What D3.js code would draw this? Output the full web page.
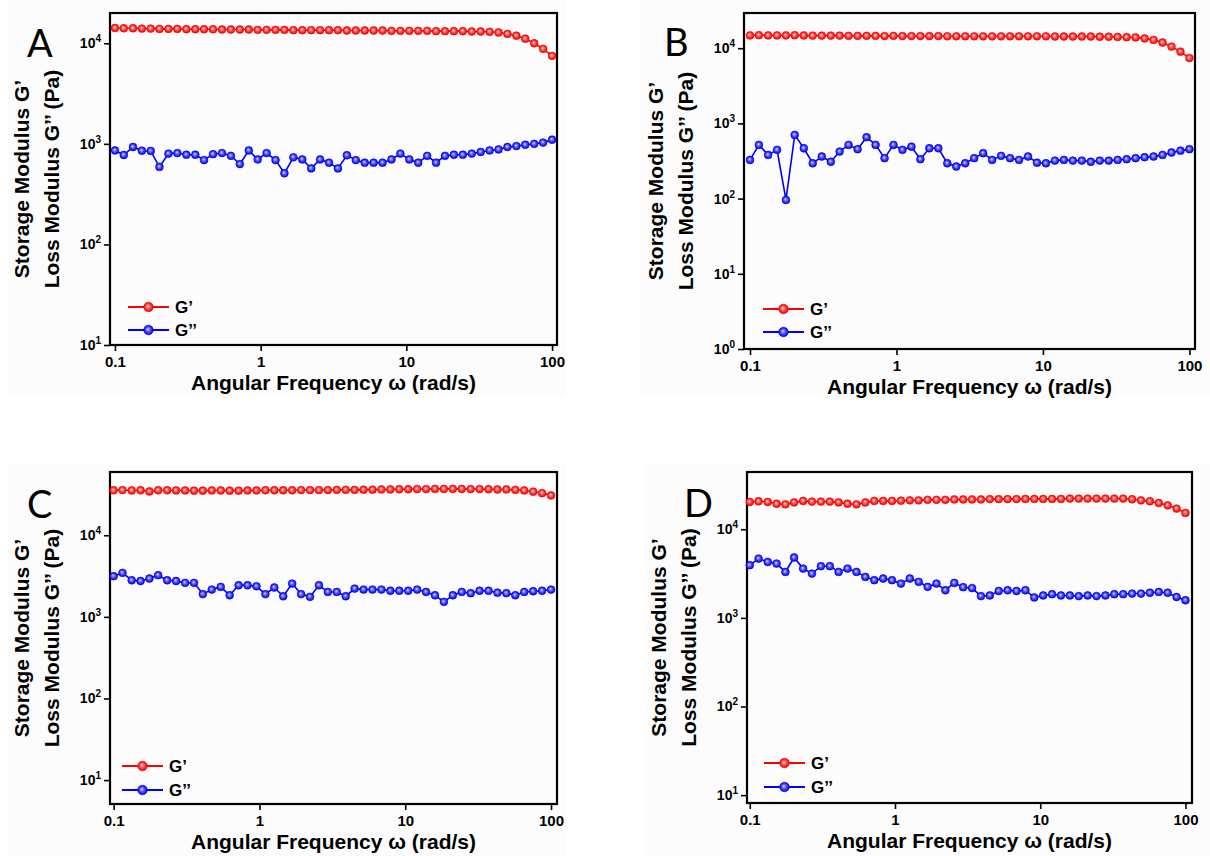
<!DOCTYPE html>
<html><head><meta charset="utf-8">
<script src="https://cdn.jsdelivr.net/npm/d3@7"></script>
<style>
body{margin:0;background:#fff}
svg{display:block}
</style>
</head><body>
<svg id="c" width="1210" height="856"></svg>
<script>
// ---------- data ----------
const freq = [0.1, 0.115, 0.133, 0.153, 0.176, 0.202, 0.233, 0.268, 0.309, 0.356,
  0.409, 0.471, 0.543, 0.625, 0.72, 0.829, 0.954, 1.099, 1.265, 1.456,
  1.677, 1.931, 2.223, 2.56, 2.947, 3.393, 3.907, 4.498, 5.179, 5.964,
  6.866, 7.906, 9.103, 10.48, 12.07, 13.9, 16, 18.42, 21.21, 24.42,
  28.12, 32.37, 37.28, 42.92, 49.42, 56.9, 65.51, 75.43, 86.85, 100];

const gpA = [14200, 14100, 14100, 14000, 14000, 13900, 13900, 13900, 13800, 13800,
  13800, 13800, 13700, 13700, 13700, 13700, 13600, 13600, 13600, 13600,
  13500, 13500, 13500, 13500, 13500, 13500, 13400, 13400, 13400, 13400,
  13400, 13300, 13300, 13300, 13300, 13300, 13200, 13200, 13200, 13200,
  13100, 13100, 13000, 12800, 12400, 11900, 11100, 10000, 8800, 7500];
const gppA = [860, 775, 930, 855, 850, 590, 800, 810, 780, 780,
  690, 790, 810, 760, 630, 860, 700, 810, 690, 510,
  735, 700, 570, 700, 650, 570, 770, 690, 650, 650,
  650, 700, 800, 700, 650, 760, 650, 760, 780, 780,
  800, 830, 860, 880, 930, 950, 980, 1000, 1030, 1100];

const gpB = [14800, 14900, 14800, 14800, 14800, 14900, 14800, 14700, 14700, 14700,
  14700, 14600, 14600, 14600, 14600, 14500, 14600, 14500, 14500, 14500,
  14500, 14500, 14400, 14400, 14400, 14400, 14400, 14400, 14400, 14400,
  14400, 14400, 14400, 14400, 14300, 14300, 14300, 14300, 14300, 14200,
  14200, 14100, 14000, 13900, 13500, 12900, 11900, 10500, 9000, 7400];
const gppB = [327, 518, 381, 445, 96, 703, 467, 295, 363, 309,
  422, 518, 454, 656, 518, 345, 518, 445, 490, 334,
  467, 467, 295, 267, 295, 345, 402, 327, 370, 345,
  327, 363, 300, 295, 320, 327, 320, 320, 309, 320,
  320, 327, 334, 345, 355, 363, 381, 410, 434, 454];

const gpC = [35600, 35800, 35400, 35600, 34400, 35600, 35600, 35400, 35400, 35200,
  35200, 35400, 35400, 35200, 35200, 35400, 35400, 35600, 35600, 35600,
  35600, 35800, 35800, 35800, 35800, 36000, 36000, 36000, 36200, 36200,
  36400, 36400, 36600, 36600, 36800, 36800, 37000, 37000, 37000, 37000,
  36800, 36800, 36600, 36400, 36400, 36000, 35400, 34200, 32800, 30800];
const gppC = [3150, 3460, 2810, 2750, 2950, 3240, 2810, 2750, 2610, 2610,
  1900, 2160, 2330, 1840, 2440, 2440, 2370, 1900, 2290, 1790,
  2560, 1900, 1760, 2440, 2020, 2020, 1790, 2220, 2160, 2160,
  2160, 2090, 2090, 2090, 2160, 2020, 1840, 1530, 1840, 2020,
  1950, 2090, 2090, 1980, 1950, 1840, 2020, 2060, 2090, 2160];

const gpD = [20300, 20700, 20300, 19400, 19100, 20100, 20900, 20500, 20500, 20500,
  20100, 19400, 19100, 20100, 20900, 20900, 20900, 21000, 21200, 21200,
  21500, 21500, 21500, 21700, 21700, 21700, 21700, 21900, 21900, 21900,
  21900, 22000, 22000, 22000, 22000, 22000, 22200, 22200, 22200, 22200,
  22200, 22200, 22200, 21800, 21200, 20700, 19800, 18600, 17100, 15300];
const gppD = [3930, 4670, 4280, 4100, 3300, 4800, 3600, 3160, 3830, 3830,
  3300, 3600, 3300, 2900, 2660, 2780, 2660, 2440, 2780, 2550,
  2240, 2440, 2050, 2480, 2220, 2170, 1760, 1790, 2010, 2050,
  2010, 2050, 1700, 1790, 1850, 1790, 1790, 1760, 1790, 1760,
  1790, 1850, 1850, 1880, 1880, 1920, 1960, 1920, 1720, 1580];

const xTicks = [0.1, 1, 10, 100];
const xTickLabels = ["0.1", "1", "10", "100"];
const yTicksACD = [10, 100, 1000, 10000];
const yTicksB = [1, 10, 100, 1000, 10000];
const seriesNames = ["G\u2019", "G\u2019\u2019"];
const xTitle = "Angular Frequency \u03C9 (rad/s)";
const yTitle1 = "Storage Modulus G\u2019";
const yTitle2 = "Loss Modulus G\u2019\u2019 (Pa)";
const panelLetters = ["A", "B", "C", "D"];

// ---------- layout ----------
const FONT = "'Liberation Sans', Arial, sans-serif";
const RED = "#ff0000", BLUE = "#0000ff";
const panels = [
  {L: panelLetters[0], gp: gpA, gpp: gppA, yt: yTicksACD,
   f: {x0: 110, x1: 557, y0: 13, y1: 345}, xd: [Math.pow(10, -1.034), Math.pow(10, 2.034)], yd: [10, Math.pow(10, 4.301)],
   lab: [27, 57], leg: {x: 128, y: 307, dy: 23}, bg: [8, 0, 558, 398]},
  {L: panelLetters[1], gp: gpB, gpp: gppB, yt: yTicksB,
   f: {x0: 744, x1: 1195, y0: 13, y1: 349}, xd: [Math.pow(10, -1.041), Math.pow(10, 2.038)], yd: [1, Math.pow(10, 4.468)],
   lab: [664, 56], leg: {x: 763, y: 309, dy: 23}, bg: [640, 0, 570, 398]},
  {L: panelLetters[2], gp: gpC, gpp: gppC, yt: yTicksACD,
   f: {x0: 110, x1: 557, y0: 472, y1: 804}, xd: [Math.pow(10, -1.025), Math.pow(10, 2.041)], yd: [Math.pow(10, 0.707), Math.pow(10, 4.775)],
   lab: [27, 518], leg: {x: 122, y: 766, dy: 24}, bg: [8, 465, 558, 391]},
  {L: panelLetters[3], gp: gpD, gpp: gppD, yt: yTicksACD,
   f: {x0: 747, x1: 1192, y0: 472, y1: 803}, xd: [Math.pow(10, -1.019), Math.pow(10, 2.045)], yd: [Math.pow(10, 0.911), Math.pow(10, 4.646)],
   lab: [684, 517], leg: {x: 764, y: 763, dy: 24}, bg: [645, 465, 565, 391]}
];

const svg = d3.select("#c");
const defs = svg.append("defs");
function grad(id, c0, c1, c2) {
  const g = defs.append("radialGradient").attr("id", id).attr("cx", "50%").attr("cy", "50%").attr("r", "50%")
    .attr("fx", "42%").attr("fy", "40%");
  g.append("stop").attr("offset", "0%").attr("stop-color", c0);
  g.append("stop").attr("offset", "45%").attr("stop-color", c1);
  g.append("stop").attr("offset", "100%").attr("stop-color", c2);
}
grad("gR", "#ffe0e0", "#ff5a5a", "#e60000");
grad("gB", "#e0e0ff", "#5a5aff", "#0000e0");

panels.forEach(p => {
  const g = svg.append("g");
  g.append("rect").attr("x", p.bg[0]).attr("y", p.bg[1]).attr("width", p.bg[2]).attr("height", p.bg[3])
    .attr("fill", "#fcfcfc");

  const x = d3.scaleLog().domain(p.xd).range([p.f.x0, p.f.x1]);
  const y = d3.scaleLog().domain(p.yd).range([p.f.y1, p.f.y0]);

  // x axis
  const ax = g.append("g").attr("transform", `translate(0,${p.f.y1})`)
    .call(d3.axisBottom(x).tickValues(xTicks).tickFormat((d, i) => xTickLabels[i]).tickSize(6).tickPadding(5));
  ax.select(".domain").remove();
  ax.selectAll("line").attr("stroke", "#000").attr("stroke-width", 1.6);
  ax.selectAll("text").attr("font-size", 15).attr("font-family", FONT).attr("font-weight", "bold").attr("fill", "#000");

  // y axis
  const ay = g.append("g").attr("transform", `translate(${p.f.x0},0)`)
    .call(d3.axisLeft(y).tickValues(p.yt).tickFormat("").tickSize(6));
  ay.select(".domain").remove();
  ay.selectAll("line").attr("stroke", "#000").attr("stroke-width", 1.6);
  p.yt.forEach(v => {
    const t = g.append("text").attr("x", p.f.x0 - 9).attr("y", y(v) + 5).attr("text-anchor", "end")
      .attr("font-family", FONT).attr("font-weight", "bold").attr("font-size", 14).attr("fill", "#000");
    t.append("tspan").text("10");
    t.append("tspan").attr("dy", -6).attr("font-size", 10).text(String(Math.round(Math.log10(v))));
  });

  // frame
  g.append("rect").attr("x", p.f.x0).attr("y", p.f.y0).attr("width", p.f.x1 - p.f.x0).attr("height", p.f.y1 - p.f.y0)
    .attr("fill", "none").attr("stroke", "#000").attr("stroke-width", 2.2);

  // series
  const line = d3.line().x(d => x(d[0])).y(d => y(d[1]));
  [[p.gp, RED, "gR"], [p.gpp, BLUE, "gB"]].forEach(([vals, col, gid]) => {
    const pts = freq.map((f, i) => [f, vals[i]]);
    g.append("path").datum(pts).attr("d", line).attr("fill", "none").attr("stroke", col).attr("stroke-width", 1.6);
    g.selectAll(null).data(pts).enter().append("circle")
      .attr("cx", d => x(d[0])).attr("cy", d => y(d[1])).attr("r", 3.9)
      .attr("fill", `url(#${gid})`).attr("stroke", col).attr("stroke-width", 0.6);
  });

  // legend
  [[RED, "gR", seriesNames[0]], [BLUE, "gB", seriesNames[1]]].forEach(([col, gid, name], i) => {
    const ly = p.leg.y + i * p.leg.dy;
    g.append("line").attr("x1", p.leg.x).attr("x2", p.leg.x + 41).attr("y1", ly).attr("y2", ly)
      .attr("stroke", col).attr("stroke-width", 2.2);
    g.append("circle").attr("cx", p.leg.x + 20.5).attr("cy", ly).attr("r", 4.8)
      .attr("fill", `url(#${gid})`).attr("stroke", col).attr("stroke-width", 0.6);
    g.append("text").attr("x", p.leg.x + 47).attr("y", ly + 6).text(name)
      .attr("font-family", FONT).attr("font-weight", "bold").attr("font-size", 17).attr("fill", "#000");
  });

  // axis titles
  g.append("text").attr("x", (p.f.x0 + p.f.x1) / 2).attr("y", p.f.y1 + 45).attr("text-anchor", "middle")
    .attr("font-family", FONT).attr("font-weight", "bold").attr("font-size", 21).attr("fill", "#000").text(xTitle);
  const cy = (p.f.y0 + p.f.y1) / 2;
  [[yTitle1, p.f.x0 - 89], [yTitle2, p.f.x0 - 59]].forEach(([txt, xx]) => {
    g.append("text").attr("transform", `translate(${xx},${cy}) rotate(-90)`).attr("text-anchor", "middle")
      .attr("dominant-baseline", "central")
      .attr("font-family", FONT).attr("font-weight", "bold").attr("font-size", 21).attr("fill", "#000").text(txt);
  });

  // panel letter
  g.append("text").attr("x", p.lab[0]).attr("y", p.lab[1]).text(p.L)
    .attr("font-family", "Lato, 'Open Sans', sans-serif").attr("font-size", 38).attr("fill", "#000");
});
</script>
</body></html>
